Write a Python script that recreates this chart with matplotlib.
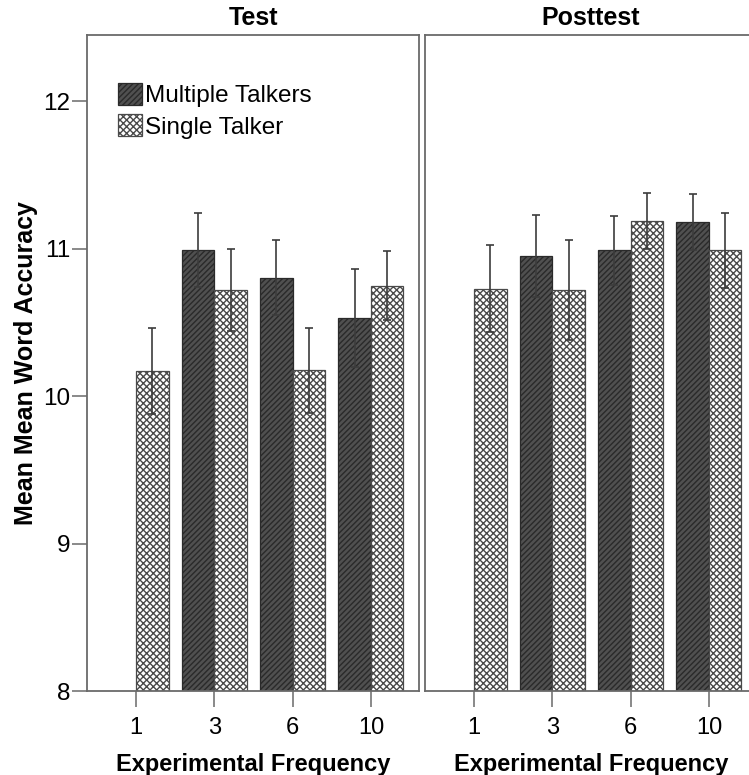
import matplotlib
matplotlib.use("Agg")
import matplotlib.pyplot as plt
import numpy as np

plt.rcParams['font.family'] = ['Liberation Sans', 'DejaVu Sans']
plt.rcParams['hatch.linewidth'] = 1.0

# ---- data ----
frequencies = ["1", "3", "6", "10"]
panels = ["Test", "Posttest"]
series_names = ["Multiple Talkers", "Single Talker"]

test_multiple = [np.nan, 10.99, 10.805, 10.53]
test_multiple_err = [np.nan, 0.25, 0.255, 0.33]
test_single = [10.17, 10.72, 10.175, 10.75]
test_single_err = [0.29, 0.28, 0.29, 0.235]

post_multiple = [np.nan, 10.95, 10.99, 11.18]
post_multiple_err = [np.nan, 0.28, 0.235, 0.19]
post_single = [10.73, 10.72, 11.19, 10.99]
post_single_err = [0.295, 0.34, 0.19, 0.255]

y_ticks = [8, 9, 10, 11, 12]

# ---- figure ----
W, H = 749, 775
fig = plt.figure(figsize=(W / 100, H / 100), dpi=100)

def frac_x(px):
    return px / W

def frac_y(py):
    return 1 - py / H

top_px, bot_px = 35, 691
ax1 = fig.add_axes([frac_x(87), frac_y(bot_px), frac_x(419 - 87), (bot_px - top_px) / H])
ax2 = fig.add_axes([frac_x(425), frac_y(bot_px), frac_x(757 - 425), (bot_px - top_px) / H])

bw = 0.414
x = np.arange(len(frequencies))
spine_col = '#6a6a6a'
err_col = '#3c3c3c'

data = [
    (ax1, test_multiple, test_multiple_err, test_single, test_single_err, panels[0]),
    (ax2, post_multiple, post_multiple_err, post_single, post_single_err, panels[1]),
]

for ax, mv, me, sv, se, title in data:
    mv = np.array(mv, dtype=float)
    sv = np.array(sv, dtype=float)
    bottom = 8
    ax.bar(x - bw / 2, mv - bottom, bw, bottom=bottom, color='#505050',
           edgecolor='#2a2a2a', hatch='//////', linewidth=0.9,
           label=series_names[0], zorder=2)
    ax.bar(x + bw / 2, sv - bottom, bw, bottom=bottom, color='white',
           edgecolor='#4a4a4a', hatch='xxxxx', linewidth=0.9,
           label=series_names[1], zorder=2)
    ax.errorbar(x - bw / 2, mv, yerr=me, fmt='none', ecolor=err_col,
                elinewidth=1.2, capsize=3, capthick=1.2, zorder=3)
    ax.errorbar(x + bw / 2, sv, yerr=se, fmt='none', ecolor=err_col,
                elinewidth=1.2, capsize=3, capthick=1.2, zorder=3)
    ax.set_ylim(8, 8 + (bot_px - top_px) / 147.4)
    ax.set_xlim(-0.628, 3.615)
    ax.set_xticks(x)
    ax.set_xticklabels(frequencies, fontsize=17)
    ax.set_title(title, fontsize=18, fontweight='bold', pad=7)
    ax.set_xlabel("Experimental Frequency", fontsize=17, fontweight='bold', labelpad=10)
    for s in ax.spines.values():
        s.set_color(spine_col)
        s.set_linewidth(1.3)
    ax.tick_params(axis='x', length=11.5, width=1.1, color=spine_col, pad=7)
    ax.set_facecolor('white')

ax1.set_yticks(y_ticks)
ax1.set_yticklabels([str(v) for v in y_ticks], fontsize=17.5)
ax1.tick_params(axis='y', length=11, width=1.1, color=spine_col, pad=1)
ax1.set_ylabel("Mean Mean Word Accuracy", fontsize=18, fontweight='bold', labelpad=4)

ax2.set_yticks([])
ax2.tick_params(axis='y', left=False, labelleft=False)

ax1.legend(loc='upper left', bbox_to_anchor=((118 - 87) / 332, 1 - (83 - 35) / 656),
           frameon=False, fontsize=17.5, handlelength=1.0, handleheight=1.0,
           handletextpad=0.12, labelspacing=0.3, borderpad=0, borderaxespad=0)

fig.savefig("out.png", dpi=100)
